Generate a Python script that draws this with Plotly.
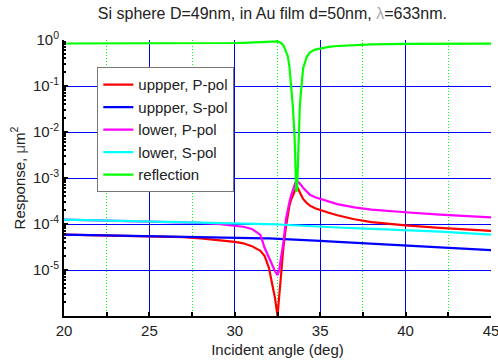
import plotly.graph_objects as go

angle_deg = [20, 22, 24, 26, 27, 28, 29, 30, 30.5, 31, 31.5, 31.75, 32, 32.2, 32.35,
             32.5, 32.6, 32.7, 32.85, 33.0, 33.1, 33.2, 33.3, 33.4, 33.5, 33.55, 33.6,
             33.65, 33.7, 33.75, 33.8, 33.85, 33.9, 34.0, 34.2, 34.4, 34.7, 35, 35.5,
             36, 37, 38, 40, 42, 45]

upper_p = [5.9e-5, 5.75e-5, 5.55e-5, 5.35e-5, 5.2e-5, 4.85e-5, 4.5e-5, 4.1e-5, 3.8e-5,
           3.3e-5, 2.6e-5, 2.0e-5, 1.1e-5, 5e-6, 2.5e-6, 1.0e-6, 3e-6, 1.0e-5, 3.2e-5,
           9e-5, 1.55e-4, 2.5e-4, 3.4e-4, 4.3e-4, 5.3e-4, 5.8e-4, 6.2e-4, 6.4e-4, 5.9e-4,
           5.3e-4, 4.8e-4, 4.4e-4, 4.0e-4, 3.5e-4, 2.9e-4, 2.5e-4, 2.2e-4, 2.0e-4,
           1.75e-4, 1.55e-4, 1.27e-4, 1.1e-4, 9.3e-5, 8.2e-5, 7.1e-5]

upper_s = [5.9e-5, 5.75e-5, 5.6e-5, 5.45e-5, 5.35e-5, 5.25e-5, 5.2e-5, 5.1e-5, 5.05e-5,
           4.95e-5, 4.9e-5, 4.88e-5, 4.85e-5, 4.82e-5, 4.8e-5, 4.78e-5, 4.76e-5, 4.75e-5,
           4.73e-5, 4.7e-5, 4.68e-5, 4.66e-5, 4.65e-5, 4.63e-5, 4.62e-5, 4.61e-5, 4.6e-5,
           4.6e-5, 4.59e-5, 4.58e-5, 4.57e-5, 4.56e-5, 4.55e-5, 4.53e-5, 4.48e-5, 4.44e-5,
           4.38e-5, 4.3e-5, 4.2e-5, 4.1e-5, 3.9e-5, 3.75e-5, 3.4e-5, 3.1e-5, 2.7e-5]

lower_p = [1.24e-4, 1.2e-4, 1.17e-4, 1.13e-4, 1.1e-4, 1.06e-4, 1.0e-4, 9.3e-5, 8.7e-5,
           7.8e-5, 5.8e-5, 3.0e-5, 1.8e-5, 1.3e-5, 9.5e-6, 7.7e-6, 1.0e-5, 1.8e-5, 4e-5,
           1.3e-4, 2.1e-4, 3.0e-4, 4.2e-4, 5.6e-4, 7.3e-4, 8.0e-4, 8.4e-4, 8.5e-4, 8.3e-4,
           8.0e-4, 7.7e-4, 7.3e-4, 6.9e-4, 6.1e-4, 5.0e-4, 4.3e-4, 3.8e-4, 3.5e-4, 3.0e-4,
           2.7e-4, 2.3e-4, 2.05e-4, 1.8e-4, 1.6e-4, 1.4e-4]

lower_s = [1.24e-4, 1.2e-4, 1.17e-4, 1.13e-4, 1.11e-4, 1.08e-4, 1.06e-4, 1.04e-4, 1.03e-4,
           1.02e-4, 1.01e-4, 1.005e-4, 1.0e-4, 9.9e-5, 9.85e-5, 9.8e-5, 9.75e-5, 9.7e-5,
           9.65e-5, 9.6e-5, 9.55e-5, 9.5e-5, 9.45e-5, 9.4e-5, 9.35e-5, 9.3e-5, 9.28e-5,
           9.25e-5, 9.2e-5, 9.15e-5, 9.1e-5, 9.08e-5, 9.05e-5, 9.0e-5, 8.9e-5, 8.85e-5,
           8.8e-5, 8.7e-5, 8.55e-5, 8.4e-5, 8.1e-5, 7.85e-5, 7.4e-5, 6.8e-5, 5.9e-5]

reflection = [0.84, 0.84, 0.83, 0.83, 0.83, 0.84, 0.85, 0.86, 0.87, 0.89, 0.91, 0.92, 0.93,
              0.94, 0.94, 0.93, 0.90, 0.86, 0.76, 0.58, 0.45, 0.26, 0.10, 0.035, 0.008,
              0.0025, 0.0005, 0.0006, 0.003, 0.01, 0.03, 0.06, 0.11, 0.24, 0.42, 0.54, 0.62,
              0.66, 0.71, 0.74, 0.78, 0.80, 0.82, 0.83, 0.83]

series_names = ["uppper, P-pol", "uppper, S-pol", "lower, P-pol", "lower, S-pol", "reflection"]
series_data = [upper_p, upper_s, lower_p, lower_s, reflection]
series_colors = ["#ff0000", "#0000ff", "#ff00ff", "#00ffff", "#00ff00"]

x_major = [20, 25, 30, 35, 40, 45]
x_minor = [22.5, 27.5, 32.5, 37.5, 42.5]
y_major = [1, 1e-1, 1e-2, 1e-3, 1e-4, 1e-5]
y_labels = ["10<sup>0</sup>", "10<sup>-1</sup>", "10<sup>-2</sup>", "10<sup>-3</sup>",
            "10<sup>-4</sup>", "10<sup>-5</sup>"]
y_minor = [m * 10.0 ** e for e in range(-6, 0) for m in range(2, 10)]

fig = go.Figure()
for name, vals, col in zip(series_names, series_data, series_colors):
    fig.add_trace(go.Scatter(x=angle_deg, y=vals, mode="lines", name=name,
                             line=dict(color=col, width=2.2)))

font_family = "Liberation Sans, Arial, sans-serif"
fig.update_layout(
    width=498, height=363,
    margin=dict(l=64, r=7, t=40, b=47, autoexpand=False),
    paper_bgcolor="white", plot_bgcolor="white",
    font=dict(family=font_family, size=15, color="#222"),
    title=dict(text='Si sphere D=49nm, in Au film d=50nm, <span style="color:#aaa">λ</span>=633nm.',
               x=0.547, xanchor="center", y=0.962, yanchor="middle",
               font=dict(size=16, color="#222")),
    showlegend=True,
    legend=dict(x=0.078, y=0.901, xanchor="left", yanchor="top",
                bgcolor="white", bordercolor="#777", borderwidth=1,
                font=dict(size=15, color="#222"), tracegroupgap=0),
)
fig.update_xaxes(
    range=[20, 45], tickmode="array", tickvals=x_major, automargin=False,
    ticks="inside", ticklen=4, tickcolor="black", tickwidth=2,
    showline=True, linecolor="black", linewidth=2, ticklabeloverflow="allow",
    showgrid=True, gridcolor="#0000ff", gridwidth=1, zeroline=False,
    minor=dict(tickmode="array", tickvals=x_minor, ticks="inside", ticklen=4,
               tickcolor="black", showgrid=True, gridcolor="#00ff00", griddash="1px,2px",
               gridwidth=1),
    title=dict(text="Incident angle (deg)", standoff=6, font=dict(size=15)),
    tickfont=dict(size=15),
)
fig.update_yaxes(
    type="log", range=[-6, 0], tickmode="array", tickvals=y_major, ticktext=y_labels,
    automargin=False,
    ticks="inside", ticklen=4, tickcolor="black", tickwidth=2,
    showline=True, linecolor="black", linewidth=2,
    showgrid=True, gridcolor="#0000ff", gridwidth=1, zeroline=False,
    minor=dict(tickmode="array", tickvals=y_minor, ticks="inside", ticklen=2,
               tickcolor="black", showgrid=False),
    title=dict(text='Response, <span style="color:#555">μ</span>m<sup>2</sup>', standoff=4,
               font=dict(size=15)),
    tickfont=dict(size=15),
)

fig.write_html("out.html", config={"displayModeBar": False},
               post_script="document.body.style.margin='0';document.body.style.overflow='hidden';")
